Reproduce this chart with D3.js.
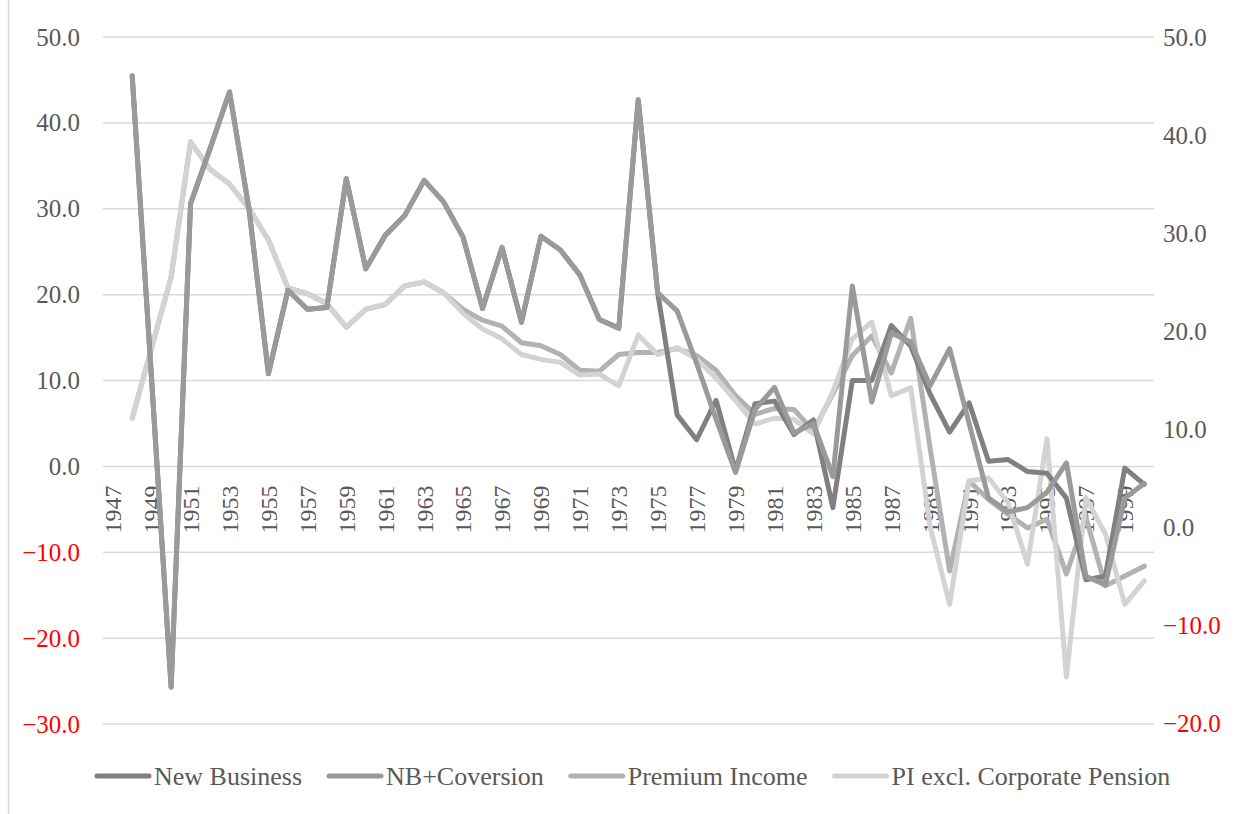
<!DOCTYPE html>
<html>
<head>
<meta charset="utf-8">
<script src="https://cdn.jsdelivr.net/npm/d3@7"></script>
<style>
  html, body { margin: 0; padding: 0; background: #ffffff; }
  svg { display: block; }
</style>
</head>
<body>
<svg id="chart" width="1246" height="814"></svg>
<script>
// Category axis: fiscal years, every other one labelled
const years = d3.range(1947, 2001);
const yearLabels = years.filter(y => (y - 1947) % 2 === 0);

// Growth rates (%), 1948-2000; 1947 has no value
const dataYears = d3.range(1948, 2001);

const newBusiness = [
  45.5, 10.0, -25.7, 30.6, 37.0, 43.6, 30.0, 10.8, 20.5, 18.3,
  18.5, 33.5, 23.0, 26.9, 29.2, 33.3, 30.8, 26.7, 18.4, 25.5,
  16.8, 26.8, 25.2, 22.3, 17.1, 16.1, 42.7, 20.2, 6.0, 3.1,
  7.7, -0.5, 7.3, 7.6, 3.7, 5.4, -4.8, 10.0, 10.0, 16.4,
  14.0, 8.4, 4.0, 7.4, 0.6, 0.8, -0.6, -0.8, -3.7, -13.2,
  -12.8, -0.2, -2.1
];

const nbConversion = [
  45.5, 10.0, -25.7, 30.6, 37.0, 43.6, 30.0, 10.8, 20.5, 18.3,
  18.5, 33.5, 23.0, 26.9, 29.2, 33.3, 30.8, 26.7, 18.4, 25.5,
  16.8, 26.8, 25.2, 22.3, 17.1, 16.1, 42.7, 20.2, 18.1, 12.0,
  5.5, -0.7, 6.6, 9.2, 3.9, 5.0, -1.2, 21.0, 7.5, 15.5,
  14.5, 9.4, 13.7, 5.0, -3.7, -5.3, -4.8, -3.0, 0.4, -12.8,
  -13.8, -3.7, -2.0
];

const premiumIncome = [
  11.1, 18.3, 25.5, 39.3, 36.5, 35.0, 32.5, 29.3, 24.4, 23.8,
  22.8, 20.4, 22.2, 22.7, 24.6, 25.0, 23.9, 22.2, 21.1, 20.5,
  18.8, 18.5, 17.6, 16.0, 15.9, 17.6, 17.8, 17.8, 18.2, 17.5,
  16.0, 13.4, 11.5, 12.1, 12.0, 9.8, 13.6, 17.5, 19.5, 15.7,
  21.3, 8.0, -4.5, 4.7, 2.8, 1.3, -0.1, 0.8, -4.8, 1.0,
  -6.0, -5.0, -4.0
];

const piExclPension = [
  11.1, 18.3, 25.5, 39.3, 36.5, 35.0, 32.5, 29.3, 24.4, 23.8,
  22.8, 20.4, 22.2, 22.7, 24.6, 25.0, 23.9, 21.8, 20.2, 19.2,
  17.6, 17.1, 16.8, 15.5, 15.6, 14.4, 19.6, 17.6, 18.3, 17.1,
  15.2, 12.9, 10.5, 11.1, 11.0, 9.5, 13.8, 19.2, 20.9, 13.4,
  14.2, 0.0, -7.9, 4.7, 5.0, 2.5, -3.8, 9.0, -15.3, 3.0,
  -0.7, -7.9, -5.5
];

// Axis ticks
const leftTicks = [50, 40, 30, 20, 10, 0, -10, -20, -30];
const rightTicks = [50, 40, 30, 20, 10, 0, -10, -20];

const seriesNames = ["New Business", "NB+Coversion", "Premium Income", "PI excl. Corporate Pension"];
const seriesColors = ["#808080", "#9a9a9a", "#b2b2b2", "#d3d3d3"];

const svg = d3.select("#chart");
const W = 1246, H = 814;
const plot = { left: 103, right: 1154, top: 37, bottom: 724 };
const FONT = "'Liberation Serif', 'DejaVu Serif', serif";

const x = d3.scaleBand().domain(years).range([plot.left, plot.right]).paddingInner(0).paddingOuter(0);
const xc = yr => x(yr) + x.bandwidth() / 2;

const yLeft = d3.scaleLinear().domain([-30, 50]).range([plot.bottom, plot.top]);
const yRight = d3.scaleLinear().domain([-20, 50]).range([723, plot.top]);

// Chart frame edge
svg.append("line")
  .attr("x1", 8.5).attr("x2", 8.5).attr("y1", 0).attr("y2", H)
  .attr("stroke", "#d9d9d9").attr("stroke-width", 1.5);

// Horizontal gridlines from the left axis
svg.append("g")
  .selectAll("line")
  .data(leftTicks)
  .join("line")
  .attr("x1", plot.left).attr("x2", plot.right)
  .attr("y1", d => yLeft(d)).attr("y2", d => yLeft(d))
  .attr("stroke", "#d9d9d9").attr("stroke-width", 1.5);

const tickColor = d => d < 0 ? "#ff0000" : "#595959";

// Left axis labels
const leftAxis = svg.append("g")
  .attr("transform", `translate(${plot.left - 23},0)`)
  .call(d3.axisLeft(yLeft).tickValues(leftTicks).tickFormat(d3.format(".1f")).tickSize(0).tickPadding(0));
leftAxis.select(".domain").remove();
leftAxis.selectAll("text")
  .attr("font-family", FONT).attr("font-size", 25)
  .attr("fill", tickColor);

// Right axis labels
const rightAxis = svg.append("g")
  .attr("transform", `translate(${plot.right + 9},0)`)
  .call(d3.axisRight(yRight).tickValues(rightTicks).tickFormat(d3.format(".1f")).tickSize(0).tickPadding(0));
rightAxis.select(".domain").remove();
rightAxis.selectAll("text")
  .attr("font-family", FONT).attr("font-size", 25)
  .attr("fill", tickColor);

// Category labels, rotated, hanging below the zero line
const xAxis = svg.append("g")
  .attr("transform", `translate(0,${yLeft(0)})`)
  .call(d3.axisBottom(x).tickValues(yearLabels).tickSize(0).tickPadding(0));
xAxis.select(".domain").remove();
xAxis.selectAll("text")
  .attr("font-family", FONT).attr("font-size", 24)
  .attr("fill", "#595959")
  .attr("text-anchor", "end")
  .attr("dy", "0.35em")
  .attr("transform", "translate(0,19) rotate(-90)")
  .attr("x", 0).attr("y", 0);

// Lines
const series = [
  { name: seriesNames[0], values: newBusiness, scale: yLeft, color: seriesColors[0] },
  { name: seriesNames[1], values: nbConversion, scale: yLeft, color: seriesColors[1] },
  { name: seriesNames[2], values: premiumIncome, scale: yRight, color: seriesColors[2] },
  { name: seriesNames[3], values: piExclPension, scale: yRight, color: seriesColors[3] }
];

const drawOrder = [2, 3, 0, 1];
const lineG = svg.append("g");
drawOrder.forEach(i => {
  const s = series[i];
  const line = d3.line()
    .x((d, j) => xc(dataYears[j]))
    .y(d => s.scale(d));
  lineG.append("path")
    .datum(s.values)
    .attr("d", line)
    .attr("fill", "none")
    .attr("stroke", s.color)
    .attr("stroke-width", 5)
    .attr("stroke-linejoin", "round")
    .attr("stroke-linecap", "round");
});

// Legend
const legend = svg.append("g").attr("transform", "translate(0,776)");
const swatch = 56, textGap = 3, itemGap = 25;
let cursor = 95;
series.forEach(s => {
  const item = legend.append("g").attr("transform", `translate(${cursor},0)`);
  item.append("line")
    .attr("x1", 2).attr("x2", swatch - 2).attr("y1", 0).attr("y2", 0)
    .attr("stroke", s.color).attr("stroke-width", 5).attr("stroke-linecap", "round");
  const t = item.append("text")
    .attr("x", swatch + textGap).attr("y", 0).attr("dy", "0.35em")
    .attr("font-family", FONT).attr("font-size", 26)
    .attr("fill", "#595959")
    .text(s.name);
  cursor += swatch + textGap + t.node().getComputedTextLength() + itemGap;
});
</script>
</body>
</html>
